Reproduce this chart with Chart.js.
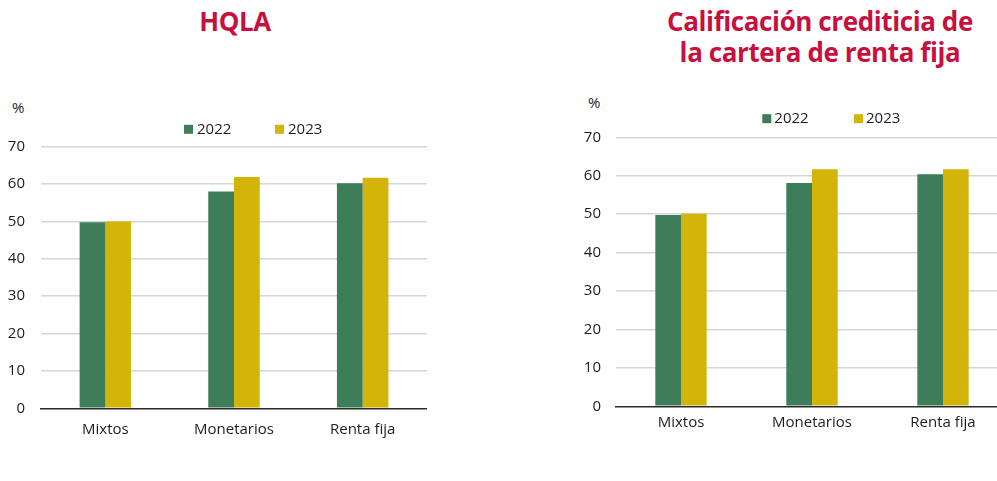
<!DOCTYPE html>
<html>
<head>
<meta charset="utf-8">
<script src="https://cdn.jsdelivr.net/npm/chart.js@4"></script>
<style>
html, body { margin: 0; padding: 0; background: #fff; overflow: hidden; }
body { position: relative; width: 997px; height: 481px; font-family: "Open Sans", sans-serif; }
.title { position: absolute; color: #c8103e; font-weight: 700; font-size: 26px; letter-spacing: -0.4px; line-height: 31px; text-align: center; }
.unit { position: absolute; font-size: 15px; line-height: 15px; color: #1e1e1e; }
canvas { position: absolute; top: 0; }
</style>
</head>
<body>
<div class="title" style="left:135px;top:6px;width:200px">HQLA</div>
<div class="title" style="left:620px;top:6px;width:400px">Calificación crediticia de<br>la cartera de renta fija</div>
<div class="unit" style="left:12px;top:100px">%</div>
<div class="unit" style="left:588px;top:95px">%</div>
<canvas id="chartHqla" width="427" height="481" style="left:0"></canvas>
<canvas id="chartRating" width="439" height="481" style="left:570px"></canvas>

<script>
// datos
const categories = ['Mixtos', 'Monetarios', 'Renta fija'];
const seriesLabels = ['2022', '2023'];
const seriesColors = ['#3d7d59', '#d3b408'];

const hqla2022 = [49.8, 58.0, 60.2];
const hqla2023 = [50.0, 61.9, 61.7];

const rating2022 = [49.8, 58.1, 60.4];
const rating2023 = [50.1, 61.7, 61.7];

const yMin = 0;
const yMax = 70;
const yStep = 10;

const FONT = '"Open Sans", sans-serif';
const TEXT = '#1e1e1e';

// leyenda simple: cuadrado + texto
const boxLegend = {
    id: 'boxLegend',
    afterDraw(chart, args, opts) {
        const ctx = chart.ctx;
        ctx.save();
        ctx.font = '15px ' + FONT;
        ctx.textBaseline = 'middle';
        chart.data.datasets.forEach((ds, i) => {
            const x = opts.x[i];
            ctx.fillStyle = ds.backgroundColor;
            ctx.fillRect(x, opts.y - opts.box / 2, opts.box, opts.box);
            ctx.fillStyle = TEXT;
            ctx.fillText(ds.label, x + opts.box + opts.gap, opts.y);
        });
        ctx.restore();
    }
};

function makeChart(id, first, second, lay) {
    const ctx = document.getElementById(id).getContext('2d');
    return new Chart(ctx, {
        type: 'bar',
        data: {
            labels: categories,
            datasets: [
                { label: seriesLabels[0], data: first, backgroundColor: seriesColors[0] },
                { label: seriesLabels[1], data: second, backgroundColor: seriesColors[1] }
            ]
        },
        options: {
            responsive: false,
            animation: false,
            categoryPercentage: lay.catPct,
            barPercentage: 1,
            layout: { padding: { left: 0, right: lay.padRight, top: lay.top, bottom: lay.bottom } },
            plugins: {
                legend: { display: false },
                tooltip: { enabled: false },
                boxLegend: lay.legend
            },
            scales: {
                x: {
                    grid: { display: false, drawTicks: false },
                    border: { display: true, color: '#2b2b2b', width: 1.6 },
                    ticks: { font: { family: FONT, size: 15 }, color: TEXT, padding: lay.xPad },
                    afterFit: s => { s.height = 40; }
                },
                y: {
                    min: yMin,
                    max: yMax,
                    ticks: { stepSize: yStep, font: { family: FONT, size: 15 }, color: TEXT, padding: lay.yPad },
                    grid: {
                        drawTicks: false,
                        lineWidth: 1.5,
                        color: c => c.tick.value === 0 ? 'rgba(0,0,0,0)' : '#d6d6d6'
                    },
                    border: { display: false },
                    afterFit: s => { s.width = lay.axisW; }
                }
            }
        },
        plugins: [boxLegend]
    });
}

makeChart('chartHqla', hqla2022, hqla2023, {
    catPct: 0.4, padRight: 0, top: 146.7, bottom: 481 - 408.3 - 40,
    axisW: 41, yPad: 16, xPad: 12.7,
    legend: { x: [184, 275], y: 129.3, box: 9, gap: 4 }
});

makeChart('chartRating', rating2022, rating2023, {
    catPct: 0.392, padRight: 0.5, top: 137.3, bottom: 481 - 406.3 - 40,
    axisW: 45.5, yPad: 14.5, xPad: 7.7,
    legend: { x: [192.3, 284], y: 118.7, box: 9, gap: 3 }
});
</script>
</body>
</html>
